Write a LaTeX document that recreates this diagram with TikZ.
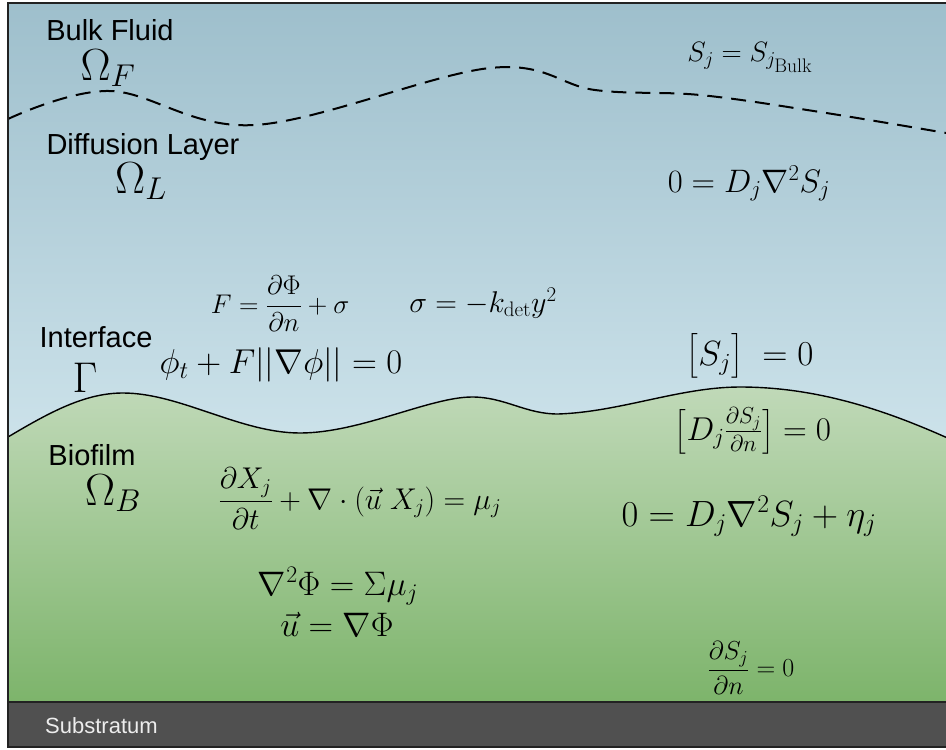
\RequirePackage{fix-cm}
\documentclass[tikz,border=0pt]{standalone}
\usepackage{amsmath}
\usepackage[no-math]{fontspec}
\setmainfont{Liberation Sans}
\definecolor{bluetop}{HTML}{9EBFCC}
\definecolor{bluebot}{HTML}{CCE2EA}
\definecolor{greentop}{HTML}{C0D9B8}
\definecolor{greenbot}{HTML}{7DB46B}
\definecolor{subgray}{HTML}{505050}
\definecolor{framec}{HTML}{222222}
\newcommand\fsz[1]{\fontsize{#1}{#1}\selectfont}
\newcommand\ifacepath{(8,437) .. controls (50,412) and (85,393) .. (123,393)
  .. controls (180,393) and (240,433) .. (300,433)
  .. controls (360,433) and (430,397) .. (472,397)
  .. controls (505,397) and (525,414) .. (558,414)
  .. controls (620,412) and (680,387) .. (740,387)
  .. controls (820,387) and (890,412) .. (952,440)}
\tikzset{
  region/.style={anchor=base, inner sep=0pt, font=\fsz{29}},
  greek/.style={anchor=base, inner sep=0pt, font=\fsz{45}},
  eqn/.style={anchor=base, inner sep=0pt},
  eqc/.style={anchor=center, inner sep=0pt},
}
\begin{document}
\begin{tikzpicture}[x=1pt,y=-1pt]
\useasboundingbox (0,0) rectangle (946,750);
\begin{scope}
\clip (0,0) rectangle (946,750);
% fluid background
\shade[top color=bluetop, bottom color=bluebot] (8,3) rectangle (952,440);
% biofilm
\shade[top color=greentop, bottom color=greenbot] \ifacepath -- (952,702) -- (8,702) -- cycle;
\draw[line width=1.4pt, black] \ifacepath;
% diffusion boundary
\draw[line width=2pt, black, dash pattern=on 15pt off 9pt]
  plot[smooth, tension=0.6] coordinates {(8,119) (110,91) (255,125) (490,68) (595,90) (700,95) (820,112) (952,134)};
% substratum
\fill[subgray] (8,702) rectangle (952,747);
\draw[line width=2pt, framec] (8,702) -- (952,702);
\draw[line width=2pt, framec] (8,3) rectangle (952,747);
\end{scope}

% region labels
\node[region] (bulk) at (110,40) {Bulk Fluid};
\node[greek] (omF) at (108,80) {$\Omega_F$};
\node[region] (diff) at (143,154) {Diffusion Layer};
\node[greek] (omL) at (141,193) {$\Omega_L$};
\node[region] (intf) at (96,347) {Interface};
\node[greek, font=\fsz{43}] (gam) at (85,392) {$\Gamma$};
\node[region] (bio) at (92,465) {Biofilm};
\node[greek] (omB) at (113,505) {$\Omega_B$};
\node[anchor=base west, inner sep=0pt, font=\fsz{22}, text=white!93!black] (sub) at (45,733) {Substratum};

% equations
\node[eqn, font=\fsz{28}] (bulkbc) at (750,61) {$S_j = S_{j_{\scriptstyle\mathrm{Bulk}}}$};
\node[eqn, font=\fsz{32.5}] (diffeq) at (749,192) {$0 = D_j\nabla^2 S_j$};
\node[eqc, font=\fsz{27}] (Feq) at (280,304) {$F = \dfrac{\partial\Phi}{\partial n} + \sigma$};
\node[eqn, font=\fsz{30}] (sigeq) at (483,312) {$\sigma = -k_{\mathrm{det}}y^2$};
\node[eqn, font=\fsz{34.5}] (lseq) at (281,373) {$\phi_t + F||\nabla\phi|| = 0$};
\node[eqn, font=\fsz{35}] (jump1) at (750,365) {$\bigl[S_j\bigr]\; = 0$};
\node[eqn, font=\fsz{33}] (jump2) at (753,440) {$\left[D_j \frac{\partial S_j}{\partial n}\right] = 0$};
\node[eqn, font=\fsz{36.5}] (bioeq) at (749,526) {$0 = D_j\nabla^2 S_j + \eta_j$};
\node[eqc, font=\fsz{30}] (Xeq) at (360,499) {$\dfrac{\partial X_j}{\partial t} + \nabla\cdot\left(\vec{u}\;X_j\right) = \mu_j$};
\node[eqn, font=\fsz{34}] (phieq) at (338,595) {$\nabla^2\Phi = \Sigma\mu_j$};
\node[eqn, font=\fsz{34}] (ueq) at (337,636) {$\vec{u} = \nabla\Phi$};
\node[eqc, font=\fsz{26}] (nbc) at (751,668) {$\dfrac{\partial S_j}{\partial n} = 0$};
\end{tikzpicture}
\end{document}
